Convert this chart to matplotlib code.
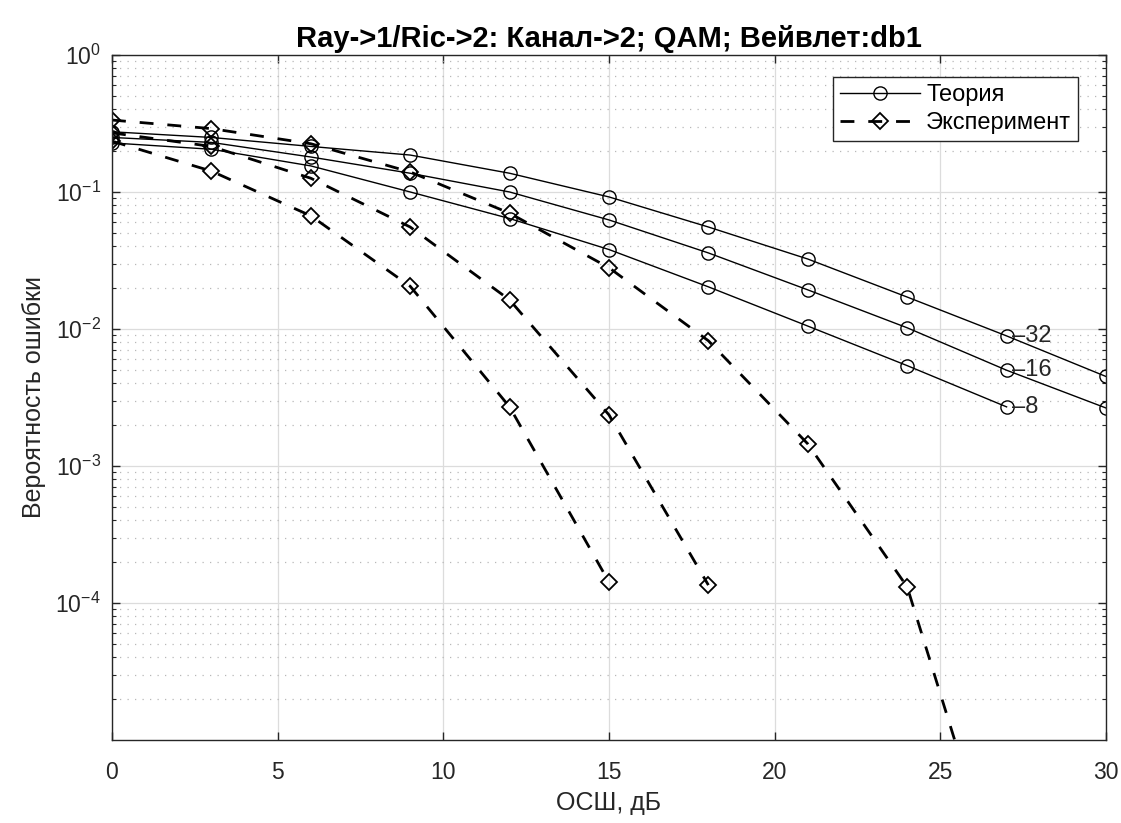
import matplotlib
matplotlib.use("Agg")
import matplotlib.pyplot as plt
from matplotlib.ticker import LogLocator, NullFormatter, FixedLocator

plt.rcParams['font.family'] = ['Liberation Sans', 'DejaVu Sans']

# SNR grid (dB)
snr = [0, 3, 6, 9, 12, 15, 18, 21, 24, 27, 30]

# Theoretical BER curves for QAM orders
theory_32 = [0.275, 0.25, 0.215, 0.186, 0.137, 0.092, 0.0555, 0.0324, 0.0171, 8.9e-3, 4.5e-3]
theory_16 = [0.25, 0.23, 0.18, 0.137, 0.1, 0.0625, 0.0359, 0.0193, 0.0102, 5.0e-3, 2.65e-3]
theory_8 = [0.228, 0.205, 0.155, 0.1, 0.064, 0.038, 0.0203, 0.0105, 5.4e-3, 2.7e-3]

# Simulated BER curves
exp_32 = [0.335, 0.29, 0.225, 0.14, 0.07, 0.028, 8.2e-3, 1.45e-3, 1.31e-4, 6e-7]
exp_16 = [0.27, 0.215, 0.126, 0.0555, 0.0163, 2.36e-3, 1.35e-4]
exp_8 = [0.235, 0.142, 0.067, 0.0205, 2.7e-3, 1.42e-4]

order_labels = ['32', '16', '8']
label_snr = 27

fig = plt.figure(figsize=(11.21, 8.23), dpi=100)
ax = fig.add_axes([0.0999, 0.1009, 0.8867, 0.8323])

theory_style = dict(color='black', lw=1.0, marker='o', markersize=9.5,
                    markerfacecolor='none', markeredgewidth=1.0)
exp_style = dict(color='black', lw=2.0, ls=(0, (5, 5)), marker='D', markersize=8,
                 markerfacecolor='none', markeredgewidth=1.3)

th_lines = []
for vals in (theory_32, theory_16, theory_8):
    l, = ax.semilogy(snr[:len(vals)], vals, **theory_style)
    th_lines.append(l)
ex_lines = []
for vals in (exp_32, exp_16, exp_8):
    l, = ax.semilogy(snr[:len(vals)], vals, **exp_style)
    ex_lines.append(l)

# Modulation order labels next to the 27 dB points
for vals, lab in zip((theory_32, theory_16, theory_8), order_labels):
    yv = vals[snr.index(label_snr)]
    ax.annotate('\u2013' + lab, (label_snr, yv), xytext=(4, 0), textcoords='offset points',
                ha='left', va='center', fontsize=17, color='#262626')

ax.set_xlim(0, 30)
ax.set_ylim(1e-5, 1)
ax.set_xticks([0, 5, 10, 15, 20, 25, 30])
ax.yaxis.set_major_locator(FixedLocator([1e0, 1e-1, 1e-2, 1e-3, 1e-4]))
ax.yaxis.set_minor_locator(LogLocator(base=10, subs=range(2, 10), numticks=20))
ax.yaxis.set_minor_formatter(NullFormatter())

ax.grid(True, which='major', color='#dcdcdc', lw=0.9, ls='-')
ax.grid(True, which='minor', axis='y', color='#b8b8b8', lw=0.9, ls=(0, (1, 5)))
ax.set_axisbelow(True)

ax.tick_params(which='both', direction='in', top=True, right=True, colors='#262626',
               labelsize=16.5)
ax.tick_params(which='major', length=6, width=1.0)
ax.tick_params(which='minor', length=3, width=0.8)
ax.tick_params(axis='x', pad=15)
ax.tick_params(axis='y', pad=8)
for s in ax.spines.values():
    s.set_color('#262626')
    s.set_linewidth(1.0)

ax.set_xlabel('ОСШ, дБ', fontsize=18, color='#262626', labelpad=5)
ax.set_ylabel('Вероятность ошибки', fontsize=18, color='#262626', labelpad=7)
ax.set_title('Ray->1/Ric->2: Канал->2; QAM; Вейвлет:db1', fontsize=21,
             fontweight='bold', color='black', pad=6)

leg = ax.legend([th_lines[0], ex_lines[0]], ['Теория', 'Эксперимент'],
                loc='upper right', bbox_to_anchor=(0.972, 0.968), fontsize=17,
                handlelength=3.4, frameon=True, fancybox=False, borderpad=0.3,
                labelspacing=0.25, handletextpad=0.25, borderaxespad=0.0)
leg.get_frame().set_edgecolor('#262626')
leg.get_frame().set_linewidth(1.0)
leg.get_frame().set_alpha(1.0)

fig.savefig('out.png', dpi=100)
